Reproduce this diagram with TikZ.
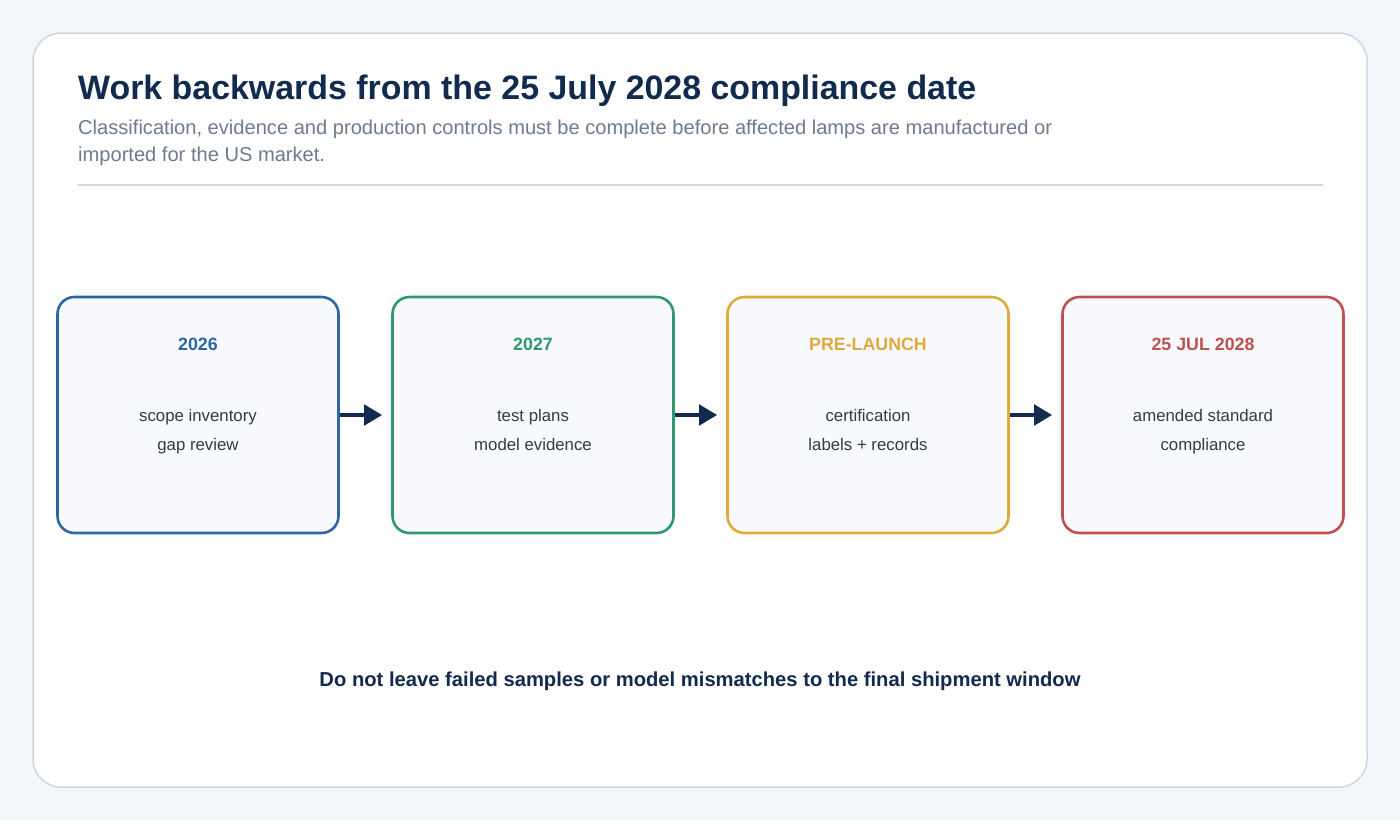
\documentclass[tikz,border=0pt]{standalone}
\usepackage{fontspec}
\setmainfont{Liberation Sans}
\usetikzlibrary{arrows.meta}
\definecolor{bgc}{HTML}{F3F6FA}
\definecolor{cardline}{HTML}{CFD8E3}
\definecolor{navy}{HTML}{112A4E}
\definecolor{subgray}{HTML}{6E7B8E}
\definecolor{bodyc}{HTML}{333B48}
\definecolor{boxfill}{HTML}{F8FAFD}
\definecolor{cblue}{HTML}{2E66A3}
\definecolor{cgreen}{HTML}{2E9870}
\definecolor{cgold}{HTML}{E0A93C}
\definecolor{cred}{HTML}{C0504F}
\tikzset{
  stagebox/.style={draw=#1, line width=2.6pt, fill=boxfill, rounded corners=17pt,
    minimum width=281pt, minimum height=236pt, inner sep=0pt},
  headtxt/.style={text=#1, font=\fontsize{17.8}{21}\selectfont\bfseries, anchor=base},
  bodytxt/.style={text=bodyc, font=\fontsize{16.8}{20}\selectfont, anchor=base},
  flowarrow/.style={draw=navy, line width=4.5pt, shorten >=9pt,
    -{Triangle[length=18pt,width=20pt]}},
}
\begin{document}
\begin{tikzpicture}[x=1pt,y=-1pt]
\useasboundingbox (0,0) rectangle (1400,820);
\fill[bgc] (0,0) rectangle (1400,820);
\draw[cardline, line width=1.5pt, fill=white, rounded corners=28pt] (33,33) rectangle (1367,787);
\node[anchor=base west, text=navy, font=\fontsize{33.9}{38}\selectfont\bfseries, inner sep=0pt] (title) at (78,99) {Work backwards from the 25 July 2028 compliance date};
\node[anchor=base west, text=subgray, font=\fontsize{20.1}{27}\selectfont, inner sep=0pt] (sub1) at (78,134) {Classification, evidence and production controls must be complete before affected lamps are manufactured or};
\node[anchor=base west, text=subgray, font=\fontsize{20.1}{27}\selectfont, inner sep=0pt] (sub2) at (78,161) {imported for the US market.};
\draw[cardline, line width=2pt] (78,185) -- (1323,185);

\node[stagebox=cblue] (b1) at (198,415) {};
\node[stagebox=cgreen] (b2) at (533,415) {};
\node[stagebox=cgold] (b3) at (868,415) {};
\node[stagebox=cred] (b4) at (1203,415) {};

\node[headtxt=cblue] (h1) at (198,350) {2026};
\node[headtxt=cgreen] (h2) at (533,350) {2027};
\node[headtxt=cgold] (h3) at (868,350) {PRE-LAUNCH};
\node[headtxt=cred] (h4) at (1203,350) {25 JUL 2028};

\node[bodytxt] (t1a) at (198,421) {scope inventory};
\node[bodytxt] (t1b) at (198,450) {gap review};
\node[bodytxt] (t2a) at (533,421) {test plans};
\node[bodytxt] (t2b) at (533,450) {model evidence};
\node[bodytxt] (t3a) at (868,421) {certification};
\node[bodytxt] (t3b) at (868,450) {labels + records};
\node[bodytxt] (t4a) at (1203,421) {amended standard};
\node[bodytxt] (t4b) at (1203,450) {compliance};

\draw[flowarrow] (b1.east) -- (b2.west);
\draw[flowarrow] (b2.east) -- (b3.west);
\draw[flowarrow] (b3.east) -- (b4.west);

\node[anchor=base, text=navy, font=\fontsize{20.2}{24}\selectfont\bfseries] (note) at (700,686) {Do not leave failed samples or model mismatches to the final shipment window};
\end{tikzpicture}
\end{document}
